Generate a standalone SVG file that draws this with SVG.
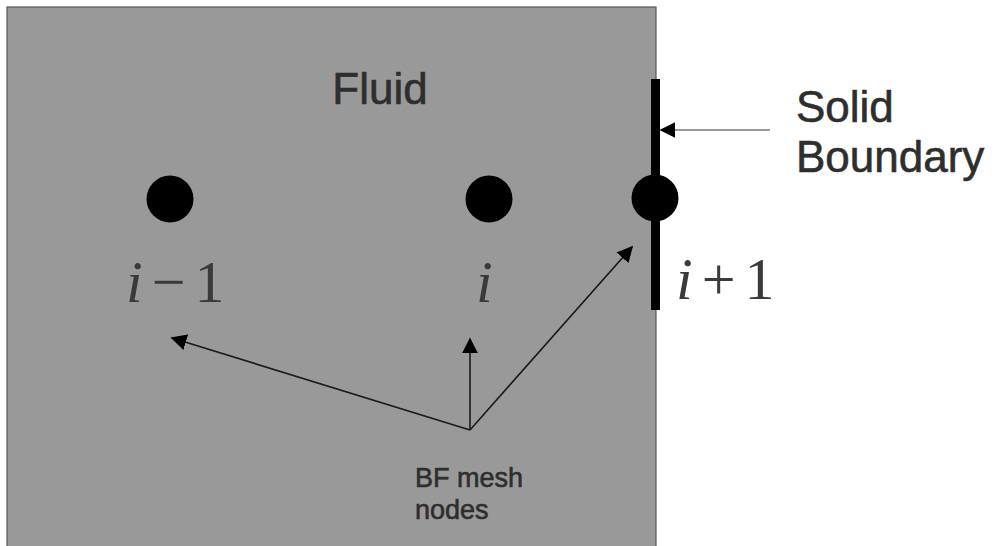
<svg xmlns="http://www.w3.org/2000/svg" width="1000" height="546" viewBox="0 0 1000 546">
<defs>
<style>
.sans{font-family:"Liberation Sans",Arial,sans-serif;fill:#2e2e2e;stroke:#2e2e2e;stroke-width:0.6}
.math{font-family:"Liberation Serif","DejaVu Serif",serif;fill:#3a3a3a;font-size:60px}
.it{font-style:italic}
.conn{stroke:#1a1a1a;stroke-width:1.6;fill:none}
.node{fill:#000}
</style>
<marker id="ah" viewBox="0 0 10 10" refX="9" refY="5" markerWidth="16" markerHeight="16" markerUnits="userSpaceOnUse" orient="auto">
<path d="M0,0 L10,5 L0,10 z" fill="#000"/>
</marker>
</defs>
<rect width="1000" height="546" fill="#fff"/>
<g id="fluid">
<rect x="7" y="7" width="649" height="545" fill="#999" stroke="#555" stroke-width="1.2"/>
<text class="sans" x="380" y="104" font-size="44" text-anchor="middle">Fluid</text>
</g>
<g id="boundary">
<rect x="651" y="79" width="9" height="231" fill="#000"/>
</g>
<g id="node-im1">
<circle class="node" cx="170" cy="199" r="23.5"/>
<text class="math" x="126" y="302"><tspan class="it">i</tspan><tspan dx="9">−</tspan><tspan dx="9">1</tspan></text>
</g>
<g id="node-i">
<circle class="node" cx="489" cy="199" r="23.5"/>
<text class="math it" x="476" y="302">i</text>
</g>
<g id="node-ip1">
<circle class="node" cx="655" cy="198" r="23.5"/>
<text class="math" x="676" y="299"><tspan class="it">i</tspan><tspan dx="9">+</tspan><tspan dx="9">1</tspan></text>
</g>
<g id="label-solid">
<text class="sans" x="796" y="122" font-size="44">Solid</text>
<text class="sans" x="796" y="172" font-size="44">Boundary</text>
</g>
<g id="label-bf">
<text class="sans" x="415" y="487" font-size="27">BF mesh</text>
<text class="sans" x="415" y="519" font-size="27">nodes</text>
</g>
<g id="connectors">
<line x1="770" y1="130" x2="661" y2="130" stroke="#6f7a80" stroke-width="1.6" marker-end="url(#ah)"/>
<line class="conn" x1="470" y1="430" x2="172" y2="338" marker-end="url(#ah)"/>
<line class="conn" x1="470" y1="430" x2="470" y2="339" marker-end="url(#ah)"/>
<line class="conn" x1="470" y1="430" x2="632" y2="247" marker-end="url(#ah)"/>
</g>
</svg>
